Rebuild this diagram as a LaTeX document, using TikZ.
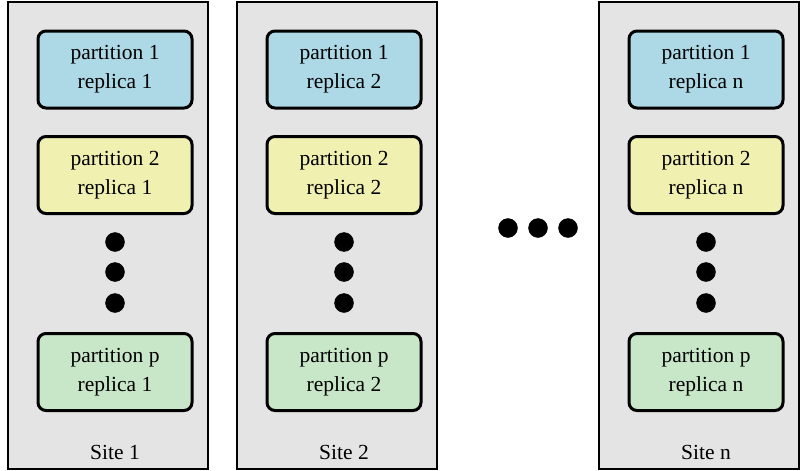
\documentclass[tikz,border=0pt]{standalone}
\usepackage{fontspec}
\setmainfont{Liberation Serif}
\usepackage{xcolor}
\usepackage{tikz}
\usetikzlibrary{positioning}

\definecolor{sitegray}{RGB}{228,228,228}
\definecolor{partblue}{RGB}{173,216,230}
\definecolor{partyellow}{RGB}{240,240,176}
\definecolor{partgreen}{RGB}{200,230,200}

\tikzset{
    sitebox/.style = {draw = black, fill = sitegray, line width = 2.4pt},
    partbox/.style = {draw = black, line width = 3pt, rounded corners = 8pt,
        minimum width = 154pt, minimum height = 77pt, align = center,
        font = \fontsize{21.5}{29}\selectfont},
    sitelabel/.style = {font = \fontsize{21.5}{26}\selectfont},
}

\begin{document}
\begin{tikzpicture}[x = 1pt, y = -1pt]
            \useasboundingbox (0, 0) rectangle (801, 471);

            \foreach \off/\name/\rep in {0/1/1, 229/2/2, 591/n/n} {
                \draw[sitebox] (8 + \off, 2) rectangle (208 + \off, 469);
                \node[partbox, fill = partblue] (p1s\name) at (115 + \off, 69.5)
                    {partition 1\\replica \rep};
                \node[partbox, fill = partyellow] (p2s\name) at (115 + \off, 175)
                    {partition 2\\replica \rep};
                \node[partbox, fill = partgreen] (pps\name) at (115 + \off, 372)
                    {partition p\\replica \rep};
                \filldraw (115 + \off, 242) circle (9.5pt)
                    (115 + \off, 272) circle (9.5pt)
                    (115 + \off, 303) circle (9.5pt);
                \node[sitelabel] (site\name) at (115 + \off, 452) {Site \name};
            }

            % dots between site 2 and site n
            \filldraw (508, 228) circle (9.5pt)
                (538, 228) circle (9.5pt)
                (568, 228) circle (9.5pt);
        \end{tikzpicture}
\end{document}
